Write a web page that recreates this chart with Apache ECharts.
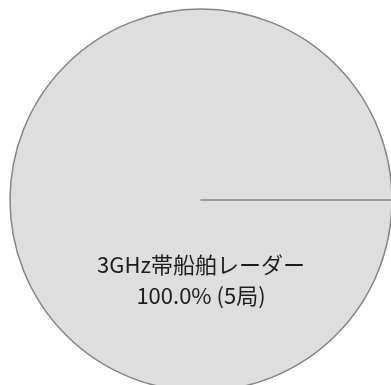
<!DOCTYPE html>
<html>
<head>
<meta charset="utf-8">
<script src="https://cdn.jsdelivr.net/npm/echarts@6/dist/echarts.min.js"></script>
<style>
  html, body { margin: 0; padding: 0; background: #fff; }
  #chart { width: 391px; height: 385px; }
</style>
</head>
<body>
<div id="chart"></div>
<script>
// データ
var categories = ['3GHz帯船舶レーダー'];
var counts = [5];
var shares = [100.0];

var chart = echarts.init(document.getElementById('chart'));

var data = categories.map(function (name, i) {
    return { name: name, value: counts[i] };
});
// 0件の項目（円の切れ目の線だけ描く）
data.push({ name: '', value: 0, label: { show: false }, labelLine: { show: false } });

chart.setOption({
    animation: false,
    series: [{
        type: 'pie',
        center: [201, 200],
        radius: 191,
        startAngle: 0,
        clockwise: true,
        stillShowZeroSum: true,
        itemStyle: {
            color: '#dedede',
            borderColor: '#858585',
            borderWidth: 1.5
        },
        label: {
            show: true,
            position: 'center',
            fontFamily: '"Noto Sans CJK JP", "Noto Sans", sans-serif',
            fontSize: 22,
            lineHeight: 31,
            color: '#1e1e1e',
            formatter: function (p) {
                if (p.dataIndex >= categories.length) return '';
                return p.name + '\n' + shares[p.dataIndex].toFixed(1) + '% (' + counts[p.dataIndex] + '局)';
            }
        },
        labelLayout: { dy: 80 },
        emphasis: { disabled: true },
        data: data
    }]
});
</script>
</body>
</html>
